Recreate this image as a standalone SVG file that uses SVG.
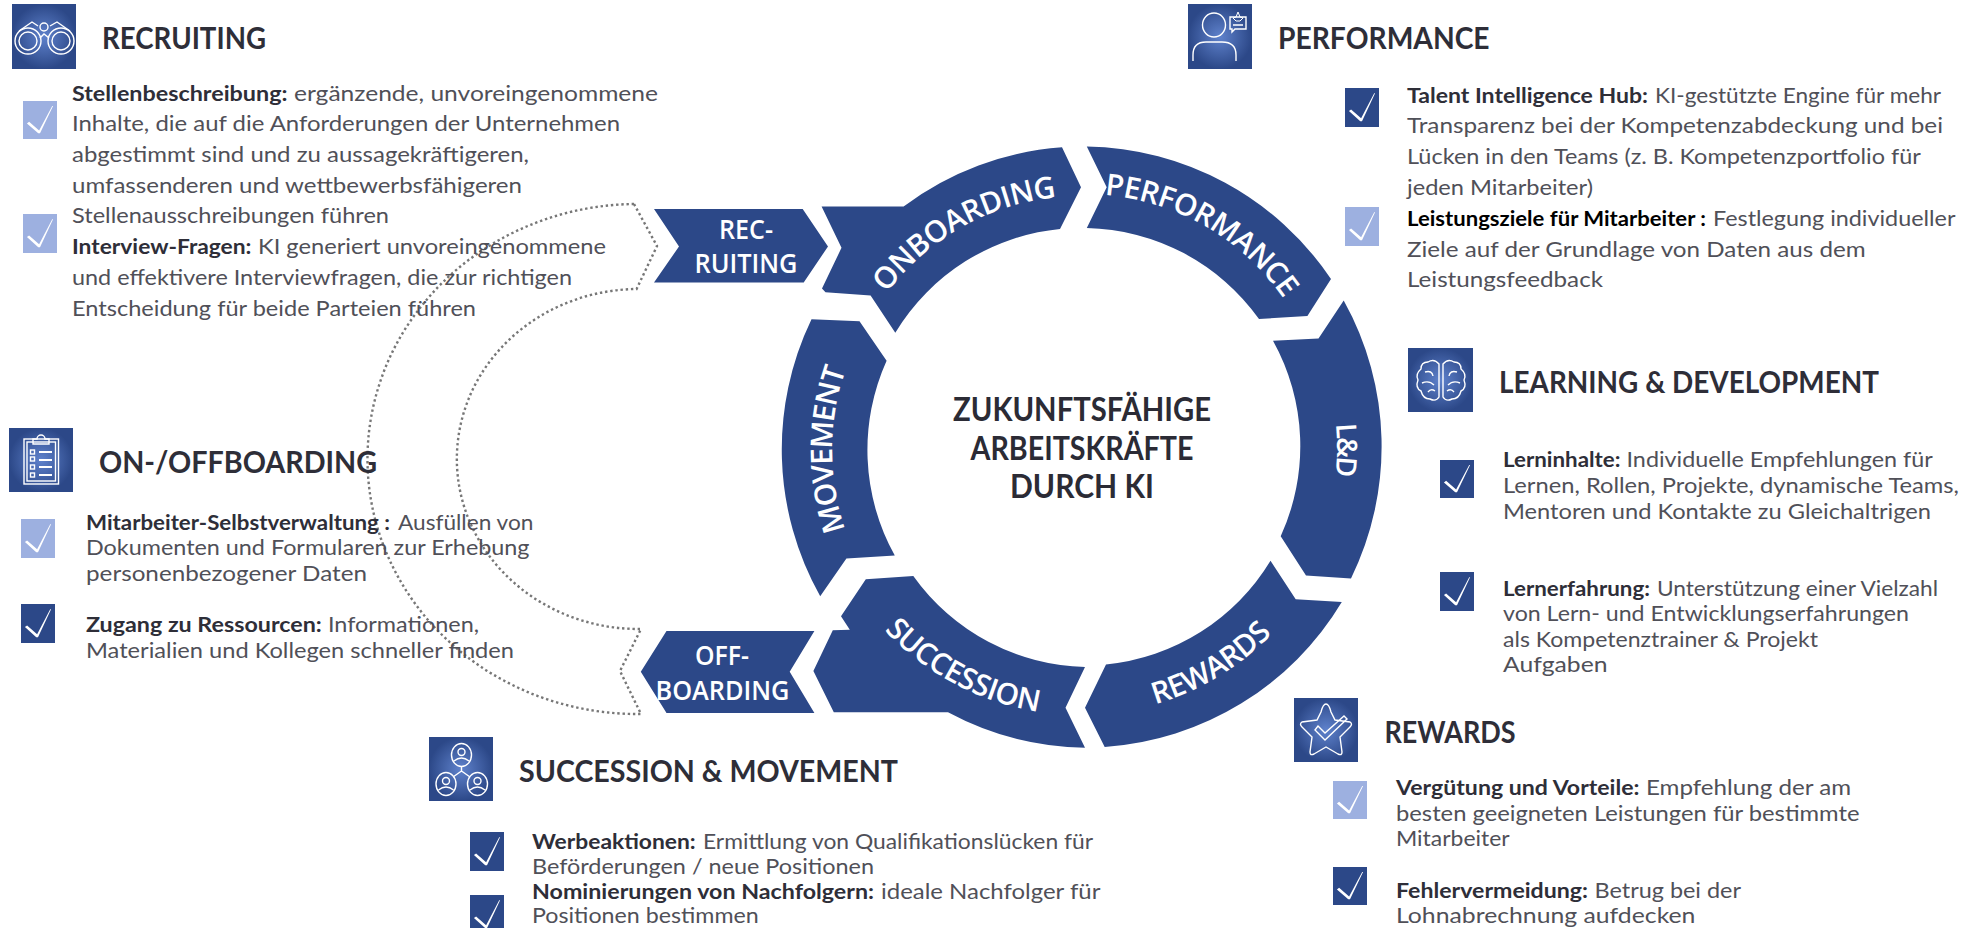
<svg xmlns="http://www.w3.org/2000/svg" width="1969" height="928" viewBox="0 0 1969 928">
<style>
text{font-family:"Lato","Liberation Sans",sans-serif}
.r{font-size:21.5px;fill:#505058;font-weight:400}
.b{font-size:21.5px;fill:#2e2e38;font-weight:700}
.h{font-size:29.5px;fill:#2e2e38;font-weight:700}
.t{font-size:32px;fill:#2b2b35;font-weight:700;text-anchor:middle}
.w{font-family:"Open Sans","Liberation Sans",sans-serif;font-size:30px;fill:#fff;font-weight:600;text-anchor:middle;letter-spacing:-.6px}
.c{font-family:"Open Sans","Liberation Sans",sans-serif;font-size:27px;fill:#fff;font-weight:600;text-anchor:middle}
.seg{fill:#2c4888}
.ico{fill:none;stroke:#fff;stroke-width:1.4}
.dot{fill:none;stroke:#777;stroke-width:2.4;stroke-dasharray:2.4 2.8}
.dk{fill:#2c4888}.lt{fill:#9db0e0}
</style>
<defs>
<radialGradient id="g"><stop offset="0" stop-color="#5f82cc"/><stop offset="1" stop-color="#2c4888"/></radialGradient>
<path id="a243" d="M869.6,325.5 A243,243 0 0 1 1290.4,325.5"/>
<path id="a255" d="M859.2,319.5 A255,255 0 0 1 1300.8,319.5"/>
<path id="a268" d="M847.9,581 A268,268 0 0 0 1312.100,581"/>
<symbol id="ck" viewBox="0 0 78 113" preserveAspectRatio="none"><path fill="#fff" d="M9,67 L14,62 L37,88 L67,15 L69,15 L39,96 L35,96 Z"/></symbol>
</defs>
<g id="connectors">
<path class="dot" d="M634,204 A270,255 0 0 0 641,714 L620,671 L641,629 A182,170 0 0 1 636.6,289 L657,246 Z"/>
</g>
<g id="ring-recruiting"><path class="seg" d="M654,209 L802.7,209 L828,246.5 L803.7,282.400 L654,282.400 L679,246.500 Z"/>
<text class="c" x="746" y="239" textLength="54" lengthAdjust="spacingAndGlyphs">REC-</text><text class="c" x="746" y="273" textLength="103" lengthAdjust="spacingAndGlyphs">RUITING</text></g>
<g id="ring-onboarding"><path class="seg" d="M1062,147.3 L1081,187.3 L1060,229 A217,217 0 0 0 895.3,332.7 L870.6,295.5 L825.5,292.2 L822,288.6 L841.5,247.8 L821.6,206.5 L903.6,206.5 A300,300 0 0 1 1062,147.3 Z"/>
<text class="w" transform="translate(1,-8) rotate(-29.5 1080 447)"><textPath href="#a243" startOffset="50%">ONBOARDING</textPath></text></g>
<g id="ring-performance"><path class="seg" d="M1086.8,146.5 A300,300 0 0 1 1331,279 L1307.4,316 L1259,319 A217,217 0 0 0 1086.8,228 L1106.7,187.3 Z"/>
<text class="w" transform="translate(4,-10) rotate(30 1080 447)"><textPath href="#a243" startOffset="50%">PERFORMANCE</textPath></text></g>
<g id="ring-ld"><path class="seg" d="M1343.7,300.4 A300,300 0 0 1 1351,578.4 L1306,575.5 L1280.7,536.3 A217,217 0 0 0 1273,340.8 L1318.5,338.4 Z"/>
<text class="w" style="font-size:28px;letter-spacing:-2px" transform="translate(2,0) rotate(90.5 1080 447)"><textPath href="#a255" startOffset="50%">L&amp;D</textPath></text></g>
<g id="ring-rewards"><path class="seg" d="M1270.5,560.8 L1295.7,599.2 L1341.8,602 A300,300 0 0 1 1104.7,747 L1085,707.8 L1106,664.5 A217,217 0 0 0 1270.5,560.8 Z"/>
<text class="w" transform="rotate(-31 1080 447)"><textPath href="#a268" startOffset="50%">REWARDS</textPath></text></g>
<g id="ring-succession"><path class="seg" d="M1085,667 A217,217 0 0 1 913.3,576 L865.8,579.2 L841,616.3 L849.8,629.8 L832.8,630.2 L813.4,671 L833.8,712.2 L948,712.2 A300,300 0 0 0 1085,747.8 L1065.5,707.8 Z"/>
<text class="w" transform="rotate(28 1080 447)"><textPath href="#a268" startOffset="50%">SUCCESSION</textPath></text></g>
<g id="ring-movement"><path class="seg" d="M811.5,319.2 L859.5,321.2 L886.6,360.8 A217,217 0 0 0 894.8,555.5 L846.4,558.4 L820.2,596.3 A300,300 0 0 1 811.5,319.2 Z"/>
<text class="w" style="letter-spacing:-1.2px" transform="translate(-5,3) rotate(-90 1080 447)"><textPath href="#a243" startOffset="50%">MOVEMENT</textPath></text></g>
<g id="ring-offboarding"><path class="seg" d="M666.5,631 L814.4,631 L789.7,671.8 L814.4,713 L666.5,713 L640.8,671.8 Z"/>
<text class="c" x="722" y="665" textLength="54" lengthAdjust="spacingAndGlyphs">OFF-</text><text class="c" x="722.500" y="699.6" textLength="134" lengthAdjust="spacingAndGlyphs">BOARDING</text></g>
<g id="center">
<text class="t" x="1082" y="421" textLength="258" lengthAdjust="spacingAndGlyphs">ZUKUNFTSFÄHIGE</text>
<text class="t" x="1082" y="459.6" textLength="223" lengthAdjust="spacingAndGlyphs">ARBEITSKRÄFTE</text>
<text class="t" x="1082" y="497.5" textLength="144" lengthAdjust="spacingAndGlyphs">DURCH KI</text>
</g>
<g id="recruiting">
<rect x="12" y="4" width="64" height="65" fill="url(#g)"/>
<g class="ico"><circle cx="28" cy="41" r="13"/><circle cx="28" cy="41" r="9"/><circle cx="61" cy="41" r="13"/><circle cx="61" cy="41" r="9"/><circle cx="44" cy="27" r="4"/><path d="M19,31 L32,22 L38,26 M70,31 L57,22 L50,26 M40,38 L44,34 L49,38"/></g>
<text class="h" x="102" y="49" textLength="164" lengthAdjust="spacingAndGlyphs">RECRUITING</text>
<rect class="lt" x="23" y="101" width="34" height="38"/><use href="#ck" x="23" y="101" width="34" height="38"/>
<rect class="lt" x="23" y="214" width="34" height="39"/><use href="#ck" x="23" y="214" width="34" height="39"/>
<text y="100.7"><tspan class="b" x="72" textLength="215.5" lengthAdjust="spacingAndGlyphs">Stellenbeschreibung:</tspan><tspan class="r" x="294" textLength="364" lengthAdjust="spacingAndGlyphs">ergänzende, unvoreingenommene</tspan></text>
<text class="r" x="72" y="131" textLength="548" lengthAdjust="spacingAndGlyphs">Inhalte, die auf die Anforderungen der Unternehmen</text>
<text class="r" x="72" y="162" textLength="457" lengthAdjust="spacingAndGlyphs">abgestimmt sind und zu aussagekräftigeren,</text>
<text class="r" x="72" y="192.7" textLength="450" lengthAdjust="spacingAndGlyphs">umfassenderen und wettbewerbsfähigeren</text>
<text class="r" x="72" y="223.3" textLength="317" lengthAdjust="spacingAndGlyphs">Stellenausschreibungen führen</text>
<text y="254"><tspan class="b" x="72" textLength="179.5" lengthAdjust="spacingAndGlyphs">Interview-Fragen:</tspan><tspan class="r" x="258" textLength="348" lengthAdjust="spacingAndGlyphs">KI generiert unvoreingenommene</tspan></text>
<text class="r" x="72" y="285" textLength="500" lengthAdjust="spacingAndGlyphs">und effektivere Interviewfragen, die zur richtigen</text>
<text class="r" x="72" y="315.7" textLength="404" lengthAdjust="spacingAndGlyphs">Entscheidung für beide Parteien führen</text>
</g>
<g id="onoffboarding">
<rect x="9" y="428" width="64" height="64" fill="url(#g)"/>
<g class="ico"><rect x="24" y="439" width="34.5" height="45"/><rect x="27" y="442" width="28.500" height="39"/><path d="M33,439 L37,439 A4,4 0 0 1 45,439 L49,439 L49,444 L33,444 Z"/><rect x="30.500" y="450" width="4" height="4"/><rect x="30.500" y="457" width="4" height="4"/><rect x="30.500" y="465" width="4" height="4"/><rect x="30.500" y="473" width="4" height="4"/><path stroke-width="2" d="M39,452 H52 M39,460 H52 M39,467 H52 M39,475 H52"/></g>
<text class="h" x="99" y="473" textLength="278" lengthAdjust="spacingAndGlyphs">ON-/OFFBOARDING</text>
<rect class="lt" x="21" y="519" width="34" height="39"/><use href="#ck" x="21" y="519" width="34" height="39"/>
<rect class="dk" x="21" y="604" width="34" height="39"/><use href="#ck" x="21" y="604" width="34" height="39"/>
<text y="530"><tspan class="b" x="86" textLength="304" lengthAdjust="spacingAndGlyphs">Mitarbeiter-Selbstverwaltung :</tspan><tspan class="r" x="398" textLength="135.400" lengthAdjust="spacingAndGlyphs">Ausfüllen von</tspan></text>
<text class="r" x="86" y="555" textLength="443.500" lengthAdjust="spacingAndGlyphs">Dokumenten und Formularen zur Erhebung</text>
<text class="r" x="86" y="581" textLength="281" lengthAdjust="spacingAndGlyphs">personenbezogener Daten</text>
<text y="631.7"><tspan class="b" x="86" textLength="235.800" lengthAdjust="spacingAndGlyphs">Zugang zu Ressourcen:</tspan><tspan class="r" x="328" textLength="151" lengthAdjust="spacingAndGlyphs">Informationen,</tspan></text>
<text class="r" x="86" y="657.7" textLength="428" lengthAdjust="spacingAndGlyphs">Materialien und Kollegen schneller finden</text>
</g>
<g id="succession-movement">
<rect x="429" y="737" width="64" height="64" fill="url(#g)"/>
<g class="ico"><ellipse cx="461.500" cy="755" rx="10" ry="11.500"/><circle cx="461.500" cy="752" r="3.500"/><path d="M454,761 Q461.500,755 469,761"/><ellipse cx="446" cy="784" rx="10" ry="11.500"/><circle cx="446" cy="781" r="3.500"/><path d="M438.500,790 Q446,784 453.500,790"/><ellipse cx="477.500" cy="784" rx="10" ry="11.500"/><circle cx="477.500" cy="781" r="3.500"/><path d="M470,790 Q477.500,784 485,790"/><path d="M461.500,766.500 V771 M461.500,771 L453,777 M461.500,771 L470,777"/></g>
<text class="h" x="519" y="782.3" textLength="379" lengthAdjust="spacingAndGlyphs">SUCCESSION &amp; MOVEMENT</text>
<rect class="dk" x="470" y="832" width="34" height="39"/><use href="#ck" x="470" y="832" width="34" height="39"/>
<rect class="dk" x="470" y="895" width="34" height="39"/><use href="#ck" x="470" y="895" width="34" height="39"/>
<text y="849"><tspan class="b" x="532" textLength="163.700" lengthAdjust="spacingAndGlyphs">Werbeaktionen:</tspan><tspan class="r" x="703" textLength="390" lengthAdjust="spacingAndGlyphs">Ermittlung von Qualifikationslücken für</tspan></text>
<text class="r" x="532" y="874" textLength="342" lengthAdjust="spacingAndGlyphs">Beförderungen / neue Positionen</text>
<text y="898.7"><tspan class="b" x="532" textLength="342" lengthAdjust="spacingAndGlyphs">Nominierungen von Nachfolgern:</tspan><tspan class="r" x="881" textLength="219.400" lengthAdjust="spacingAndGlyphs">ideale Nachfolger für</tspan></text>
<text class="r" x="532" y="923.3" textLength="226.700" lengthAdjust="spacingAndGlyphs">Positionen bestimmen</text>
</g>
<g id="performance">
<rect x="1188" y="4" width="64" height="65" fill="url(#g)"/>
<g class="ico"><ellipse cx="1214" cy="25" rx="11.500" ry="12"/><path d="M1193,61 V55 Q1193,42 1206,42 H1222 Q1236,42 1236,55 V61"/><path d="M1230,17 H1246 V29 H1235 L1232,32 V29 H1230 Z M1233,25 H1243"/><path d="M1238,12 L1240,17 L1243,18 L1240,21 H1236 L1233,18 L1236,17 Z" stroke-width="1"/></g>
<text class="h" x="1278" y="49" textLength="211.600" lengthAdjust="spacingAndGlyphs">PERFORMANCE</text>
<rect class="dk" x="1345" y="88" width="34" height="39"/><use href="#ck" x="1345" y="88" width="34" height="39"/>
<rect class="lt" x="1345" y="207" width="34" height="39"/><use href="#ck" x="1345" y="207" width="34" height="39"/>
<text y="102.7"><tspan class="b" x="1407" textLength="241" lengthAdjust="spacingAndGlyphs">Talent Intelligence Hub:</tspan><tspan class="r" x="1655" textLength="286" lengthAdjust="spacingAndGlyphs">KI-gestützte Engine für mehr</tspan></text>
<text class="r" x="1407" y="133.3" textLength="536" lengthAdjust="spacingAndGlyphs">Transparenz bei der Kompetenzabdeckung und bei</text>
<text class="r" x="1407" y="164.3" textLength="513.800" lengthAdjust="spacingAndGlyphs">Lücken in den Teams (z. B. Kompetenzportfolio für</text>
<text class="r" x="1407" y="195" textLength="186" lengthAdjust="spacingAndGlyphs">jeden Mitarbeiter)</text>
<text y="225.7"><tspan class="b" x="1407" textLength="299" lengthAdjust="spacingAndGlyphs" style="fill:#000">Leistungsziele für Mitarbeiter :</tspan><tspan class="r" x="1713" textLength="242.400" lengthAdjust="spacingAndGlyphs">Festlegung individueller</tspan></text>
<text class="r" x="1407" y="256.7" textLength="458.700" lengthAdjust="spacingAndGlyphs">Ziele auf der Grundlage von Daten aus dem</text>
<text class="r" x="1407" y="287.3" textLength="196" lengthAdjust="spacingAndGlyphs">Leistungsfeedback</text>
</g>
<g id="learning-development">
<rect x="1408" y="348" width="65" height="64" fill="url(#g)"/>
<g class="ico"><path d="M1439,364 Q1434,358 1428,362 Q1421,362 1421,369 Q1415,374 1418,380 Q1415,388 1421,391 Q1423,399 1430,399 Q1436,402 1439,397 Z"/><path d="M1443,364 Q1448,358 1454,362 Q1461,362 1461,369 Q1467,374 1464,380 Q1467,388 1461,391 Q1459,399 1452,399 Q1446,402 1443,397 Z"/><path d="M1425,372 Q1432,370 1433,376 M1422,383 Q1429,380 1434,385 M1428,392 Q1431,388 1435,391 M1457,372 Q1450,370 1449,376 M1460,383 Q1453,380 1448,385 M1454,392 Q1451,388 1447,391"/></g>
<text class="h" x="1499" y="393" textLength="380" lengthAdjust="spacingAndGlyphs">LEARNING &amp; DEVELOPMENT</text>
<rect class="dk" x="1440" y="460" width="34" height="38"/><use href="#ck" x="1440" y="460" width="34" height="38"/>
<rect class="dk" x="1440" y="572" width="34" height="39"/><use href="#ck" x="1440" y="572" width="34" height="39"/>
<text y="467"><tspan class="b" x="1503" textLength="117.400" lengthAdjust="spacingAndGlyphs">Lerninhalte:</tspan><tspan class="r" x="1626.500" textLength="306.200" lengthAdjust="spacingAndGlyphs">Individuelle Empfehlungen für</tspan></text>
<text class="r" x="1503" y="493" textLength="456" lengthAdjust="spacingAndGlyphs">Lernen, Rollen, Projekte, dynamische Teams,</text>
<text class="r" x="1503" y="519" textLength="428" lengthAdjust="spacingAndGlyphs">Mentoren und Kontakte zu Gleichaltrigen</text>
<text y="596"><tspan class="b" x="1503" textLength="147" lengthAdjust="spacingAndGlyphs">Lernerfahrung:</tspan><tspan class="r" x="1657" textLength="281" lengthAdjust="spacingAndGlyphs">Unterstützung einer Vielzahl</tspan></text>
<text class="r" x="1503" y="621" textLength="406" lengthAdjust="spacingAndGlyphs">von Lern- und Entwicklungserfahrungen</text>
<text class="r" x="1503" y="647" textLength="315" lengthAdjust="spacingAndGlyphs">als Kompetenztrainer &amp; Projekt</text>
<text class="r" x="1503" y="672" textLength="104.500" lengthAdjust="spacingAndGlyphs">Aufgaben</text>
</g>
<g id="rewards">
<rect x="1294" y="698" width="64" height="64" fill="url(#g)"/>
<g class="ico"><path d="M1326,704 Q1329,704 1331,712 L1335,720 L1350,722 Q1353,724 1350,727 L1340,737 L1342,752 Q1342,756 1338,754 L1326,747 L1314,754 Q1310,756 1310,752 L1312,737 L1302,727 Q1299,724 1302,722 L1317,720 L1321,712 Q1323,704 1326,704 Z"/><path d="M1318,726 L1325,733 L1344,716 L1347,719 L1325,740 L1315,730 Z"/></g>
<text class="h" x="1384.400" y="742.7" textLength="131.200" lengthAdjust="spacingAndGlyphs">REWARDS</text>
<rect class="lt" x="1333" y="781" width="34" height="38"/><use href="#ck" x="1333" y="781" width="34" height="38"/>
<rect class="dk" x="1333" y="867" width="34" height="38"/><use href="#ck" x="1333" y="867" width="34" height="38"/>
<text y="795"><tspan class="b" x="1396" textLength="243.500" lengthAdjust="spacingAndGlyphs">Vergütung und Vorteile:</tspan><tspan class="r" x="1646" textLength="205" lengthAdjust="spacingAndGlyphs">Empfehlung der am</tspan></text>
<text class="r" x="1396" y="820.5" textLength="463.500" lengthAdjust="spacingAndGlyphs">besten geeigneten Leistungen für bestimmte</text>
<text class="r" x="1396" y="846" textLength="113.600" lengthAdjust="spacingAndGlyphs">Mitarbeiter</text>
<text y="897.5"><tspan class="b" x="1396" textLength="192" lengthAdjust="spacingAndGlyphs">Fehlervermeidung:</tspan><tspan class="r" x="1594.500" textLength="146.500" lengthAdjust="spacingAndGlyphs">Betrug bei der</tspan></text>
<text class="r" x="1396" y="923" textLength="299.400" lengthAdjust="spacingAndGlyphs">Lohnabrechnung aufdecken</text>
</g>
</svg>
